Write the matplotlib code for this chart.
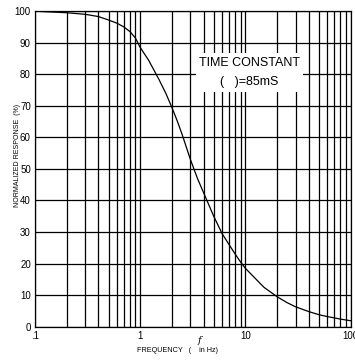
#!/usr/bin/env python3
"""Normalized response vs frequency, log grid chart."""

import matplotlib

matplotlib.use("Agg")
import matplotlib.pyplot as plt
from matplotlib.patches import Rectangle
from matplotlib.ticker import FixedLocator, NullFormatter

plt.rcParams["font.family"] = ["Liberation Sans", "DejaVu Sans"]

# values
freq_hz = [0.1, 0.2, 0.3, 0.4, 0.5, 0.6, 0.7, 0.8, 0.9, 1.0, 1.2, 1.5, 1.75,
           2.0, 2.25, 2.5, 3.0, 3.5, 4.0, 5.0, 6.0, 7.0, 8.0, 9.0, 10.0, 12.0,
           15.0, 20.0, 25.0, 30.0, 40.0, 50.0, 60.0, 70.0, 80.0, 100.0]
response_pct = [100.0, 99.5, 99.0, 98.3, 97.2, 96.2, 95.0, 93.5, 91.5, 88.5,
                84.5, 78.5, 74.0, 69.5, 65.2, 61.0, 53.0, 47.0, 42.5, 35.0,
                29.5, 26.0, 23.0, 20.5, 18.5, 15.8, 12.5, 9.5, 7.6, 6.3, 4.8,
                3.8, 3.2, 2.8, 2.4, 1.9]
x_ticks = [0.1, 1, 10, 100]
x_tick_labels = [".1", "1", "10", "100"]
y_ticks = [0, 10, 20, 30, 40, 50, 60, 70, 80, 90, 100]

fig = plt.figure(figsize=(3.55, 3.6), dpi=100)
ax = fig.add_axes([0.0986, 0.0925, 0.889, 0.8765])

ax.set_xscale("log")
ax.set_xlim(0.1, 100)
ax.set_ylim(0, 100)

minor = [m * 10.0 ** d for d in (-1, 0, 1) for m in range(2, 10)]
ax.xaxis.set_major_locator(FixedLocator(x_ticks))
ax.xaxis.set_minor_locator(FixedLocator(minor))
ax.xaxis.set_minor_formatter(NullFormatter())
ax.set_xticklabels(x_tick_labels)
ax.set_yticks(y_ticks)

ax.grid(True, which="both", color="black", linewidth=0.9)
ax.tick_params(which="both", length=0, labelsize=7, pad=3)
for spine in ax.spines.values():
    spine.set_linewidth(0.9)

ax.plot(freq_hz, response_pct, color="black", linewidth=0.9, zorder=3)

# annotation box, blanks out the grid behind it
ax.add_patch(Rectangle((0.51, 0.743), 0.339, 0.124, transform=ax.transAxes,
                       facecolor="white", edgecolor="none", zorder=4))
ax.text(0.68, 0.835, "TIME CONSTANT", transform=ax.transAxes,
        ha="center", va="center", fontsize=9, zorder=5)
ax.text(0.68, 0.775, "(   )=85mS", transform=ax.transAxes,
        ha="center", va="center", fontsize=9, zorder=5)

fig.text(0.048, 0.569, "NORMALIZED RESPONSE  (%)", rotation=90,
         ha="center", va="center", fontsize=5)
fig.text(0.386, 0.027, "FREQUENCY   (    in Hz)", ha="left", va="center",
         fontsize=5.2)
fig.text(0.563, 0.055, "f", ha="center", va="center", fontsize=7,
         style="italic", family="DejaVu Serif")

fig.savefig("out.png", dpi=100)
